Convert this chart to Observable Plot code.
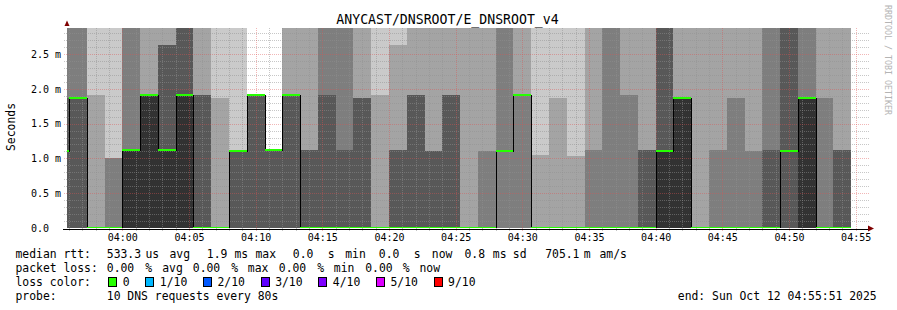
<!DOCTYPE html>
<html><head><meta charset="utf-8">
<script src="https://cdn.jsdelivr.net/npm/d3@7"></script>
<script src="https://cdn.jsdelivr.net/npm/@observablehq/plot@0.6"></script>
<style>
body{margin:0;background:#fff;}
#wrap{width:897px;height:310px;overflow:hidden;}
</style></head><body><div id="wrap"></div>
<script>
// ---------- data ----------
const T = 3.0; // pings above the chart top (clipped)
const step = 80; // seconds per bin ("every 80s")
const binStart = ["03:54:40","03:56:00","03:57:20","03:58:40","04:00:00","04:01:20","04:02:40","04:04:00","04:05:20",
  "04:06:40","04:08:00","04:09:20","04:10:40","04:12:00","04:13:20","04:14:40","04:16:00","04:17:20","04:18:40",
  "04:20:00","04:21:20","04:22:40","04:24:00","04:25:20","04:26:40","04:28:00","04:29:20","04:30:40","04:32:00",
  "04:33:20","04:34:40","04:36:00","04:37:20","04:38:40","04:40:00","04:41:20","04:42:40","04:44:00","04:45:20",
  "04:46:40","04:48:00","04:49:20","04:50:40","04:52:00","04:53:20"];
// sorted ping rtts (ms) per bin, rank 1..10
const ping1 = Array(45).fill(0);
const ping2 = Array(45).fill(0);
const ping3 = Array(45).fill(0);
const ping4 = [0,0,0,0,0,0,0,0,0,0, 0,0,0,0,0,0,0,0,0,0, 0,0,0,0,0,1.10,1.91,0,0,0, 0,0,0,0,0,0,0,0,0,0, 0,0,0,0,0];
const ping5 = [1.10,1.87,0,0,0,0,0,0,0,0, 1.10,1.91,1.12,1.91,0,0,0,0,0,0, 0,0,0,0,0,1.10,1.91,0,0,0, 0,0,0,0,0,0,0,0,0,0, 0,1.10,0,0,0];
const ping6 = [1.10,1.87,0,0,1.12,1.91,1.12,1.91,0,0, 1.10,1.91,1.12,1.91,0,0,0,0,0,0, 0,0,0,0,0,1.10,1.91,0,0,0, 0,0,0,0,1.10,1.87,0,0,0,0, 0,1.10,1.87,0,0];
const ping7 = [1.87,1.87,0,0,1.12,1.91,2.63,T,1.91,0, 1.10,1.91,1.12,1.91,1.12,1.91,1.12,1.87,0,1.12, 1.91,1.10,1.91,0,0,1.10,1.91,0,0,0, 0,0,0,1.12,T,1.87,0,0,0,0, 1.12,T,1.87,0,1.12];
const ping8 = [T,T,0,1.01,T,1.91,2.63,T,1.91,0, 1.10,1.91,1.12,1.91,1.12,T,T,1.87,0,1.12, 1.91,1.10,1.91,0,1.10,T,1.91,0,0,0, 1.12,T,1.91,1.12,T,1.87,0,1.12,1.87,1.10, T,T,T,1.87,1.12];
const ping9 = [T,T,1.91,1.01,T,T,T,T,T,1.87, 1.10,1.91,1.12,T,T,T,T,T,1.91,2.63, T,T,T,T,T,T,T,1.05,1.87,1.03, T,T,T,T,T,T,T,T,T,T, T,T,T,T,T];
const ping10 = [T,T,T,T,T,T,T,T,T,T, T,1.91,1.12,T,T,T,T,T,T,T, T,T,T,T,T,T,T,T,T,T, T,T,T,T,T,T,T,T,T,T, T,T,T,T,T];
const median = [1.10,1.87,0,0,1.12,1.91,1.12,1.91,0,0, 1.10,1.91,1.12,1.91,0,0,0,0,0,0, 0,0,0,0,0,1.10,1.91,0,0,0, 0,0,0,0,1.10,1.87,0,0,0,0, 0,1.10,1.87,0,0];
const loss = Array(45).fill(0);
const lossLevels = [0,1,2,3,4,5,9];
const lossLabels = ["0","1/10","2/10","3/10","4/10","5/10","9/10"];
const lossColors = ["#26ff00","#00b8ff","#0059ff","#5e00ff","#7e00ff","#dd00ff","#ff0000"];
const smokeGrays = ["#cacaca","#a4a4a4","#7e7e7e","#585858","#323232"];
const tStart = "03:55:51", tEnd = "04:55:51";
const yMax = 2.874;
const yTicks = [0,0.5,1.0,1.5,2.0,2.5];
const xTicks = ["04:00","04:05","04:10","04:15","04:20","04:25","04:30","04:35","04:40","04:45","04:50","04:55"];
const statsLine1 = [["median rtt:",16],["533.3",107.3],["us",146],["avg",170],["1.9",207.3],["ms",235],["max",256],
  ["0.0",293.3],["s",328.3],["min",345.7],["0.0",379.3],["s",414.3],["now",432.3],["0.8",465],["ms",493.3],["sd",513.3],
  ["705.1",545.7],["m",584.3],["am/s",600]];
const statsLine2 = [["packet loss:",16],["0.00",107.3],["%",145.7],["avg",162.7],["0.00",193.3],["%",231.7],["max",248.3],
  ["0.00",279.3],["%",317.7],["min",334.3],["0.00",365.7],["%",403.3],["now",420]];
const probeText = "10 DNS requests every 80s";
const endText = "end: Sun Oct 12 04:55:51 2025";
const title = "ANYCAST/DNSROOT/E_DNSROOT_v4";

// ---------- build ----------
const sec = s => { const [h,m,x] = s.split(":").map(Number); return h*3600 + m*60 + (x||0); };
const pings = [ping1,ping2,ping3,ping4,ping5,ping6,ping7,ping8,ping9,ping10];
const bins = binStart.map((s,i) => ({t0: sec(s), t1: sec(s)+step, p: pings.map(a => a[i]), median: median[i], loss: loss[i]}));
const medPts = bins.map(b => ({t: b.t0, v: b.median})).concat([{t: bins[bins.length-1].t1, v: bins[bins.length-1].median}]);
const x0 = sec(tStart), x1 = sec(tEnd);
const px = yMax/200;          // one pixel in value units
const sPx = (x1-x0)/800;      // one pixel in seconds
const mono = "DejaVu Sans Mono, monospace";
const pad = n => String(n).padStart(2,"0");
const fmtT = d => pad(Math.floor(d/3600)) + ":" + pad(Math.floor(d%3600/60));

const minorX = d3.range(sec("03:56:00"), x1, 60).filter(t => t % 300 !== 0);
const majorX = xTicks.map(sec);
const minorY = d3.range(1, 29).map(i => i/10).filter(v => Math.round(v*10) % 5 !== 0);
const majorY = yTicks.filter(v => v > 0);
const lossColor = l => lossColors[lossLevels.indexOf(l)];

const marks = [];
for (let k = 0; k < 5; k++) {
  marks.push(Plot.rect(bins, {x1: "t0", x2: "t1", y1: d => d.p[k], y2: d => d.p[9-k],
    fill: smokeGrays[k], clip: true, shapeRendering: "crispEdges"}));
}
marks.push(
  Plot.ruleY(minorY, {x1: x0 - 3*sPx, x2: x1 + 1.5*sPx, stroke: "#8f8f8f", strokeOpacity: 0.5, strokeDasharray: "1,1", shapeRendering: "crispEdges"}),
  Plot.ruleX(minorX, {y1: -3*px, y2: yMax, stroke: "#8f8f8f", strokeOpacity: 0.5, strokeDasharray: "1,1", shapeRendering: "crispEdges"}),
  Plot.ruleY(majorY, {x1: x0 - 3*sPx, x2: x1 + 1.5*sPx, stroke: "#de5050", strokeOpacity: 0.42, strokeDasharray: "1,1", shapeRendering: "crispEdges"}),
  Plot.ruleX(majorX, {y1: -3*px, y2: yMax, stroke: "#de5050", strokeOpacity: 0.42, strokeDasharray: "1,1", shapeRendering: "crispEdges"}),
  Plot.line(medPts, {x: "t", y: "v", curve: "step-after", stroke: "#000", strokeWidth: 1, clip: true, shapeRendering: "crispEdges"}),
  Plot.rect(bins, {x1: "t0", x2: "t1", y1: d => d.median - px, y2: d => d.median + px, fill: d => lossColor(d.loss), clip: true, shapeRendering: "crispEdges"}),
  Plot.ruleY([0], {x1: x0 - 4*sPx, x2: x1 + 1*sPx, stroke: "#000", dy: 0.5, shapeRendering: "crispEdges"}),
  Plot.axisX(majorX, {anchor: "bottom", tickSize: 0, tickPadding: 5, tickFormat: fmtT, fontSize: 10, fontFamily: mono, label: null}),
  Plot.axisY(yTicks, {anchor: "left", tickSize: 0, tickPadding: 0, dx: -36.5, textAnchor: "start",
    tickFormat: v => v === 0 ? "0.0" : v.toFixed(1) + " m", fontSize: 10, fontFamily: mono, label: null})
);

const chart = Plot.plot({
  width: 897, height: 310,
  marginLeft: 67, marginRight: 30, marginTop: 28, marginBottom: 82,
  x: {domain: [x0, x1], axis: null},
  y: {domain: [0, yMax], axis: null},
  style: {background: "#fff", fontFamily: mono, overflow: "visible"},
  marks
});
document.getElementById("wrap").appendChild(chart);

// ---------- texts & decorations ----------
const svg = d3.select(chart);
function txt(x, y, s, size, o = {}) {
  const t = svg.append("text").attr("x", x).attr("y", y).text(s)
    .attr("font-family", mono).attr("font-size", size).attr("fill", o.fill || "#000")
    .attr("text-anchor", o.anchor || "start").style("white-space", "pre");
  if (o.rotate) t.attr("transform", `rotate(${o.rotate},${x},${y})`);
  return t;
}
txt(447.5, 24.3, title, 13.2, {anchor: "middle"});
txt(15, 127, "Seconds", 11.4, {anchor: "middle", rotate: -90});
txt(885, 5, "RRDTOOL / TOBI OETIKER", 8.3, {fill: "#b4b4b4", rotate: 90});
// arrows
svg.append("path").attr("d", "M64.5,26 L69.5,26 L67,20.5 Z").attr("fill", "#7f0000");
svg.append("path").attr("d", "M868,225.5 L868,231.5 L874,228.5 Z").attr("fill", "#7f0000");
// legend
const fs = 11.4, cw = fs * 0.602;
statsLine1.forEach(([s, x]) => txt(x - 0.5, 258.3, s, fs));
statsLine2.forEach(([s, x]) => txt(x - 0.5, 272.3, s, fs));
txt(15.5, 286.3, "loss color:", fs);
let bx = 108.3;
lossLabels.forEach((lab, i) => {
  svg.append("rect").attr("x", Math.round(bx) + 0.5).attr("y", 277.5).attr("width", 8).attr("height", 9)
    .attr("fill", lossColors[i]).attr("stroke", "#000").attr("stroke-width", 1);
  txt(bx + 15 - 0.5, 286.3, lab, fs);
  bx = bx + 15 + lab.length * cw + 15.2;
});
txt(15.5, 300.3, "probe:", fs);
txt(106.8, 300.3, probeText, fs);
txt(677.8, 300.3, endText, fs);
</script></body></html>
